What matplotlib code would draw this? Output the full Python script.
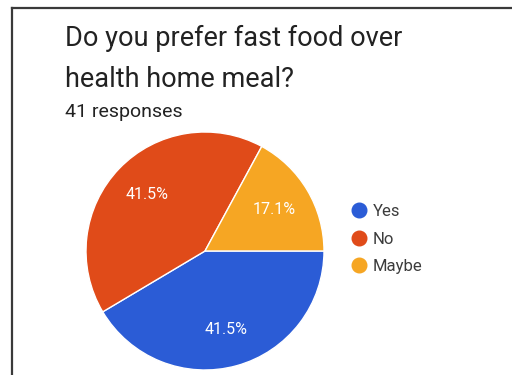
import matplotlib.pyplot as plt
from matplotlib.lines import Line2D

plt.rcParams['font.family'] = ['Roboto', 'DejaVu Sans']

# survey answers
labels = ['Yes', 'No', 'Maybe']
shares = [41.5, 41.5, 17.1]
colors = ['#2b5cd6', '#e04b19', '#f6a623']
title_lines = ['Do you prefer fast food over', 'health home meal?']
subtitle = '41 responses'

W, H = 512, 375
fig = plt.figure(figsize=(W / 100, H / 100), dpi=100)
fig.patch.set_facecolor('white')

def px(x, y):
    # pixel position (from top-left) -> figure fraction
    return x / W, 1 - y / H

# card border: only left and top edges are in view
fig.add_artist(Line2D([12 / W, 12 / W], [0, 1 - 8 / H], color='#3a3a3a',
                      linewidth=1.6, transform=fig.transFigure))
fig.add_artist(Line2D([12 / W, 1], [1 - 8 / H, 1 - 8 / H], color='#3a3a3a',
                      linewidth=1.6, transform=fig.transFigure))

for line, base in zip(title_lines, [46, 87]):
    fig.text(*px(65, base), line, fontsize=19.5, color='#222222',
             va='baseline', ha='left')
fig.text(*px(65, 117), subtitle, fontsize=14, color='#222222',
         va='baseline', ha='left')

# pie axes: centre (205, 251), radius 119 px
cx, cy, r = 205, 251, 119
ax = fig.add_axes([(cx - r) / W, (H - cy - r) / H, 2 * r / W, 2 * r / H])
wedges, _, autotexts = ax.pie(shares, colors=colors, startangle=0,
                              counterclock=False, autopct='%.1f%%',
                              pctdistance=0.68, radius=1,
                              wedgeprops=dict(edgecolor='white', linewidth=1),
                              textprops=dict(color='white', fontsize=11.5))
ax.set_xlim(-1, 1)
ax.set_ylim(-1, 1)
ax.set_aspect('equal')
ax.axis('off')

handles = [Line2D([], [], marker='o', linestyle='', markersize=10.5,
                  markerfacecolor=c, markeredgecolor=c) for c in colors]
fig.legend(handles, labels, loc='upper left',
           bbox_to_anchor=px(351, 204), frameon=False,
           fontsize=12, handletextpad=0.3, labelspacing=0.75,
           handlelength=1.0, borderaxespad=0, borderpad=0,
           labelcolor='#3c3c3c')

fig.savefig('out.png', dpi=100)
